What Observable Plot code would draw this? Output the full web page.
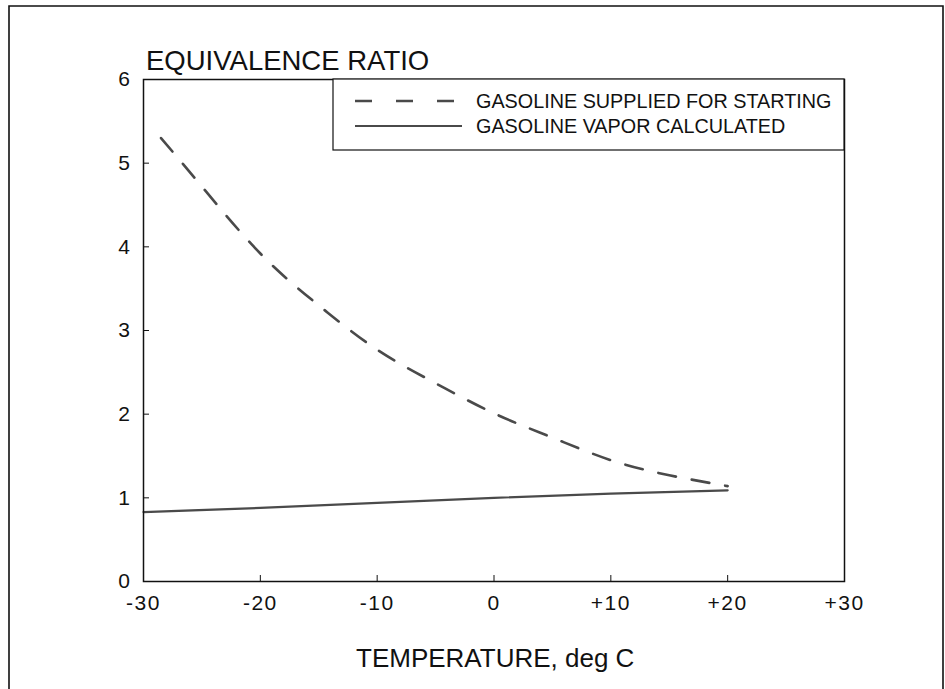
<!DOCTYPE html>
<html>
<head>
<meta charset="utf-8">
<script src="https://cdn.jsdelivr.net/npm/d3@7"></script>
<script src="https://cdn.jsdelivr.net/npm/@observablehq/plot@0.6"></script>
<style>
  html, body { margin: 0; padding: 0; background: #fff; }
  #chart svg { display: block; }
</style>
</head>
<body>
<div id="chart"></div>
<script>
// Data
const suppliedTemp = [-28.5, -25, -20, -15, -10, -5, 0, 5, 10, 15, 20];
const suppliedRatio = [5.30, 4.72, 3.92, 3.30, 2.77, 2.37, 2.01, 1.72, 1.45, 1.27, 1.14];
const vaporTemp = [-30, -20, -10, 0, 10, 20];
const vaporRatio = [0.83, 0.88, 0.94, 1.00, 1.05, 1.09];
const xTicks = [-30, -20, -10, 0, 10, 20, 30];
const yTicks = [0, 1, 2, 3, 4, 5, 6];
const seriesNames = ["GASOLINE SUPPLIED FOR STARTING", "GASOLINE VAPOR CALCULATED"];
const titleText = "EQUIVALENCE RATIO";
const xLabelText = "TEMPERATURE, deg C";

const supplied = suppliedTemp.map((t, i) => ({t, r: suppliedRatio[i]}));
const vapor = vaporTemp.map((t, i) => ({t, r: vaporRatio[i]}));

const W = 945, H = 689;
const mL = 143, mR = 101, mT = 79, mB = 108;
const plotW = W - mL - mR, plotH = H - mT - mB;
const font = "'Liberation Sans', Arial, Helvetica, sans-serif";
const dashStyle = "18,16";
const lineColor = "#4a4a4a";

const chart = Plot.plot({
  width: W, height: H,
  marginLeft: mL, marginRight: mR, marginTop: mT, marginBottom: mB,
  style: {fontFamily: font, fontSize: "21px", color: "#111", background: "#fff"},
  x: {domain: [-30, 30], ticks: xTicks, label: null},
  y: {domain: [0, 6], ticks: yTicks, label: null},
  marks: [
    Plot.axisX({ticks: xTicks, tickSize: 0, tickPadding: 14, fontSize: 21, label: null,
      tickFormat: d => d > 0 ? "+" + d : String(d)}),
    Plot.axisY({ticks: yTicks, tickSize: 0, tickPadding: 12, fontSize: 21, label: null,
      tickFormat: d => String(d)}),
    Plot.tickX(xTicks, {x: d => d, insetTop: plotH - 6, stroke: "#111", strokeWidth: 1}),
    Plot.tickY(yTicks, {y: d => d, insetRight: plotW - 6, stroke: "#111", strokeWidth: 1}),
    Plot.line(vapor, {x: "t", y: "r", stroke: lineColor, strokeWidth: 2.2}),
    Plot.line(supplied, {x: "t", y: "r", stroke: lineColor, strokeWidth: 2.6,
      strokeDasharray: dashStyle, curve: "natural"}),
    Plot.frame({stroke: "#111", strokeWidth: 1.5})
  ]
});

document.getElementById("chart").appendChild(chart);

const svg = d3.select(chart);
// widen tick labels a little, like the reference's wide digits
svg.selectAll("g[aria-label='x-axis tick label'] text, g[aria-label='y-axis tick label'] text")
  .style("letter-spacing", "1.5px");

// outer page frame
svg.append("path")
  .attr("d", `M9,${H + 5}V6H943V${H + 5}`)
  .attr("fill", "none").attr("stroke", "#111").attr("stroke-width", 1.6);

// title
svg.append("text").attr("x", 146).attr("y", 70).attr("text-anchor", "start")
  .attr("font-family", font).attr("font-size", 27.5).attr("fill", "#111")
  .text(titleText);

// x label
svg.append("text").attr("x", 356).attr("y", 667).attr("text-anchor", "start")
  .attr("font-family", font).attr("font-size", 26).attr("fill", "#111")
  .text(xLabelText);

// legend
const lg = svg.append("g");
lg.append("rect").attr("x", 333).attr("y", mT).attr("width", W - mR - 333).attr("height", 71)
  .attr("fill", "#fff").attr("stroke", "#111").attr("stroke-width", 1.2);
const rows = [
  {y: 101, dash: "17,24"},
  {y: 126, dash: null}
];
rows.forEach((row, i) => {
  lg.append("line").attr("x1", 355).attr("x2", 462).attr("y1", row.y).attr("y2", row.y)
    .attr("stroke", lineColor).attr("stroke-width", i === 0 ? 2.6 : 2.2)
    .attr("stroke-dasharray", row.dash);
  lg.append("text").attr("x", 476).attr("y", row.y).attr("dy", "0.35em")
    .attr("text-anchor", "start")
    .attr("font-family", font).attr("font-size", 19.8).attr("fill", "#111")
    .text(seriesNames[i]);
});
</script>
</body>
</html>
